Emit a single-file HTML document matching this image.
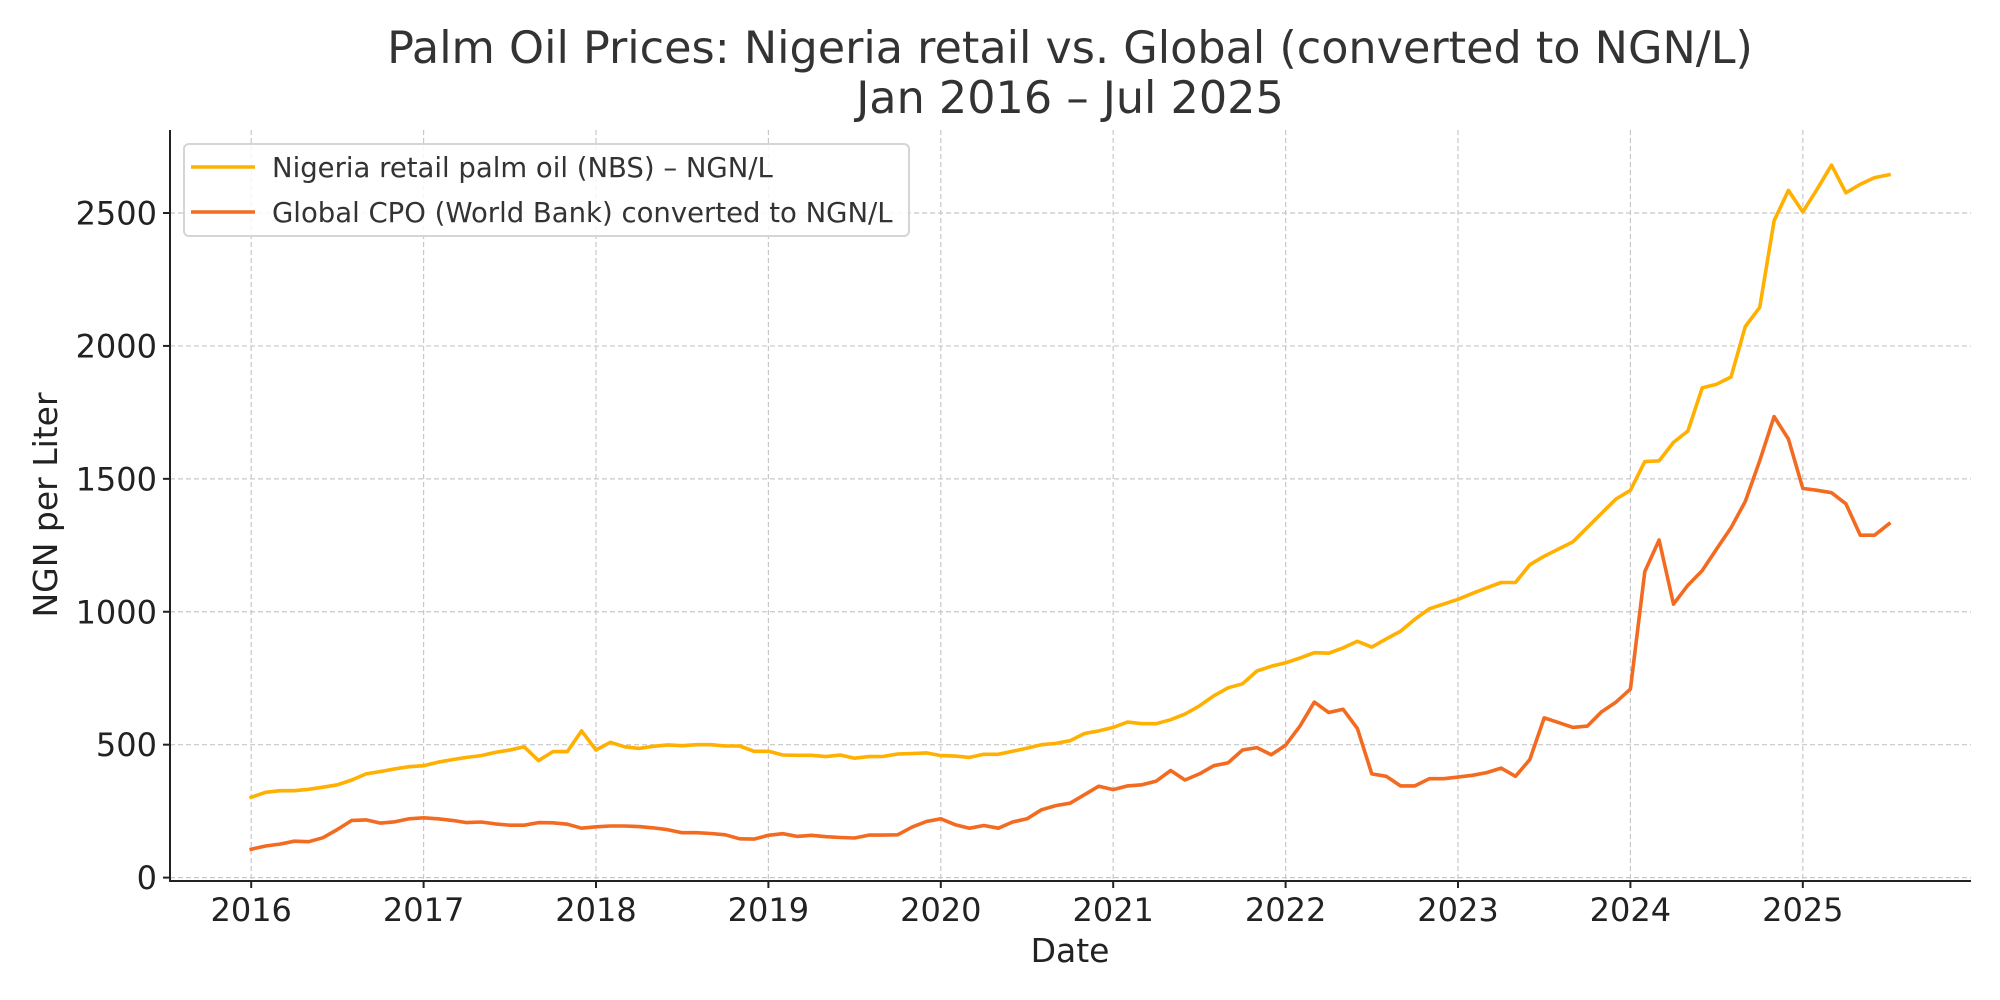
<!DOCTYPE html>
<html><head><meta charset="utf-8"><style>
html,body{margin:0;padding:0;background:#fff;}
svg{display:block;font-family:"DejaVu Sans","Liberation Sans",sans-serif;}
</style></head><body>
<svg id="chart" width="2000" height="1000" viewBox="0 0 2000 1000" xmlns="http://www.w3.org/2000/svg">
<rect x="0" y="0" width="2000" height="1000" fill="#fff"/>
<text x="1070" y="63" text-anchor="middle" font-size="44.5" fill="#333">Palm Oil Prices: Nigeria retail vs. Global (converted to NGN/L)</text>
<text x="1070" y="113" text-anchor="middle" font-size="44.5" fill="#333">Jan 2016 – Jul 2025</text>
<g id="grid"></g>
<g id="series"></g>
<g id="axes"></g>
<text x="0" y="0" transform="translate(57,505) rotate(-90)" text-anchor="middle" font-size="33" fill="#222">NGN per Liter</text>
<text x="1070" y="962" text-anchor="middle" font-size="33" fill="#222">Date</text>
<g>
<rect x="184" y="144" width="725" height="92" rx="5" fill="#fff" fill-opacity="0.85" stroke="#d5d5d5" stroke-width="2"/>
<line x1="191" y1="167" x2="255" y2="167" stroke="#FFB000" stroke-width="3.5"/>
<text x="272" y="177" font-size="27.5" fill="#333">Nigeria retail palm oil (NBS) – NGN/L</text>
<line x1="191" y1="212" x2="255" y2="212" stroke="#F26B21" stroke-width="3.5"/>
<text x="272" y="222" font-size="27.5" fill="#333">Global CPO (World Bank) converted to NGN/L</text>
</g>
</svg>
<script>
const startYear = 2016;
const yTicks = [0, 500, 1000, 1500, 2000, 2500];
const xTickYears = [2016, 2017, 2018, 2019, 2020, 2021, 2022, 2023, 2024, 2025];
const nigeriaRetail = [
302,321,327,327,332,340,349,367,390,399,409,417,
421,434,444,452,459,471,480,492,440,474,474,552,
480,509,492,486,494,499,496,500,500,495,495,475,
475,461,460,460,455,461,449,455,456,465,467,469,
459,457,452,464,464,475,487,500,505,515,542,552,
565,585,579,579,594,615,646,684,714,729,777,795,
808,826,846,844,864,889,867,898,927,972,1011,1029,
1047,1069,1090,1110,1110,1177,1209,1236,1263,1317,1371,1424,
1457,1565,1568,1637,1680,1842,1856,1883,2073,2145,2471,2585,
2504,2590,2680,2576,2608,2633,2644];
const globalCPO = [
107,119,126,137,135,150,181,215,217,205,210,221,
225,221,215,207,209,202,197,197,207,206,201,186,
191,194,194,192,187,180,169,169,166,161,146,145,
159,165,155,159,154,151,149,160,160,161,190,211,
221,199,186,196,186,209,221,255,271,280,312,344,
331,345,349,363,403,367,390,421,432,480,489,462,
498,570,660,621,633,561,390,381,345,345,372,372,
378,385,395,412,381,444,601,583,565,570,624,660,
709,1151,1270,1029,1100,1155,1236,1316,1415,1568,1734,1650,
1464,1457,1448,1406,1288,1288,1331];

const plot = {left:170, right:1971, top:130, bottom:881};
const x0 = 251.2, pxPerYear = 172.4;
function xScale(monthIndex){ return x0 + monthIndex * pxPerYear / 12; }
function yScale(v){ return 877.6 - v * 0.26584; }
const NS = "http://www.w3.org/2000/svg";
function mk(tag, attrs, parent){ const e=document.createElementNS(NS,tag); for(const k in attrs) e.setAttribute(k,attrs[k]); parent.appendChild(e); return e; }
const grid=document.getElementById('grid'), axes=document.getElementById('axes'), series=document.getElementById('series');

yTicks.forEach(v=>{
  const y=yScale(v);
  const gl=mk('line',{x1:plot.left,x2:plot.right,y1:y,y2:y,stroke:'#c8c8c8','stroke-width':1.2,'stroke-dasharray':'5,3'},grid);
  
  
  const tk=mk('line',{x1:plot.left-7,x2:plot.left,y1:y,y2:y,stroke:'#222','stroke-width':2},axes);
  
  
  const t=mk('text',{x:plot.left-13,y:y+11.5,'text-anchor':'end','font-size':32,fill:'#222'},axes);
  t.textContent=v;
  
  
});
xTickYears.forEach(yr=>{
  const x=xScale((yr-startYear)*12);
  const gl=mk('line',{x1:x,x2:x,y1:plot.top,y2:plot.bottom,stroke:'#c8c8c8','stroke-width':1.2,'stroke-dasharray':'5,3'},grid);
  
  
  const tk=mk('line',{x1:x,x2:x,y1:plot.bottom,y2:plot.bottom+7,stroke:'#222','stroke-width':2},axes);
  
  
  const t=mk('text',{x:x,y:plot.bottom+40,'text-anchor':'middle','font-size':32,fill:'#222'},axes);
  t.textContent=yr;
  
  
});
const ls=mk('line',{x1:plot.left,x2:plot.left,y1:plot.top,y2:plot.bottom+1,stroke:'#222','stroke-width':2},axes);


const bs=mk('line',{x1:plot.left-1,x2:plot.right,y1:plot.bottom,y2:plot.bottom,stroke:'#222','stroke-width':2},axes);



function drawLine(arr,color,name){
  const d=arr.map((v,i)=>(i?'L':'M')+xScale(i).toFixed(1)+','+yScale(v).toFixed(1)).join(' ');
  const p=mk('path',{d:d,fill:'none',stroke:color,'stroke-width':3.6,'stroke-linejoin':'round','stroke-linecap':'square'},series);
  
  
}
drawLine(nigeriaRetail,'#FFB000','line-nigeria-retail');
drawLine(globalCPO,'#F26B21','line-global-cpo');
</script>
</body></html>
